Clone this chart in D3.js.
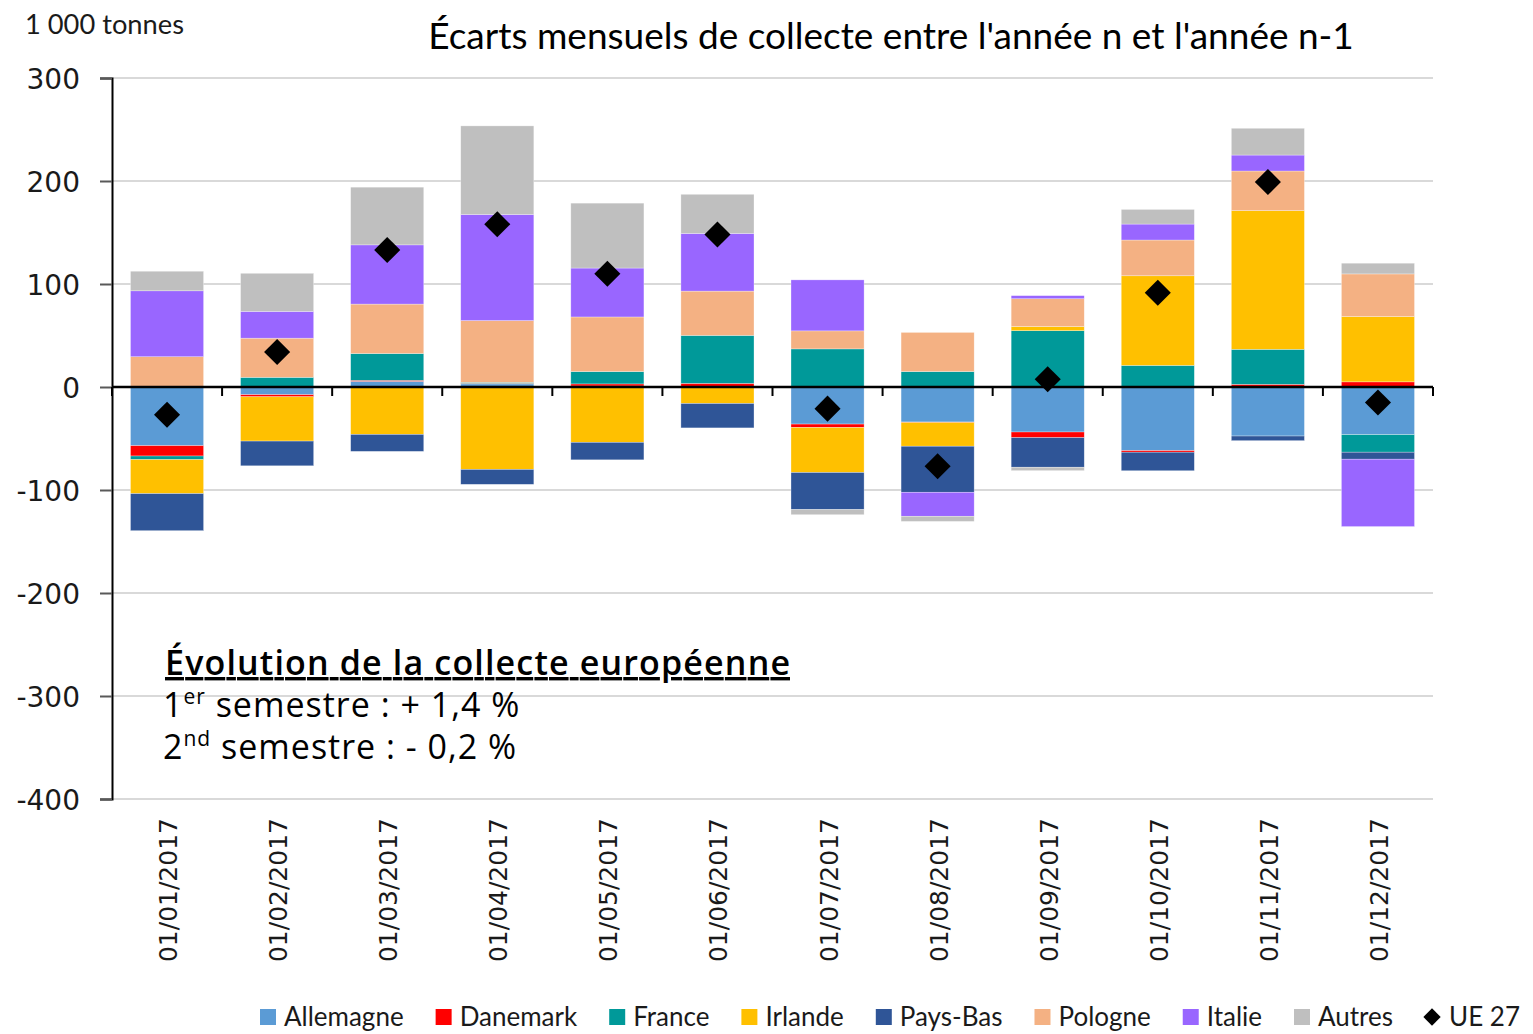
<!DOCTYPE html>
<html>
<head>
<meta charset="utf-8">
<script src="https://cdnjs.cloudflare.com/ajax/libs/d3/7.8.5/d3.min.js"></script>
<style>
  body { margin: 0; background: #fff; }
  svg { display: block; }
</style>
</head>
<body>
<svg id="chart" width="1533" height="1034"></svg>
<script>
// données (1 000 tonnes)
var months = ["01/01/2017","01/02/2017","01/03/2017","01/04/2017","01/05/2017","01/06/2017",
              "01/07/2017","01/08/2017","01/09/2017","01/10/2017","01/11/2017","01/12/2017"];
var allemagne = [-57, -7.5, 5.5, 3, 1, 0, -36, -34, -43.7, -61.8, -47.6, -46.3];
var danemark  = [-10, -2, 1, 0.5, 2, 3.5, -3.3, -0.5, -5.5, -1.5, 2.6, 5];
var france    = [-3.5, 9.4, 26, 1, 12, 46.6, 37, 15, 54.7, 21, 34, -17];
var irlande   = [-33, -43, -46, -80, -53.7, -16, -43.7, -23, 4, 87, 134.6, 63.4];
var paysBas   = [-36, -24, -16.5, -14.5, -17, -23.7, -36, -44.7, -28.7, -18, -4.5, -6.8];
var pologne   = [29.4, 38, 48, 60, 53, 43, 17.5, 38, 27, 34.7, 38.5, 41.4];
var italie    = [64, 26, 57.5, 103, 47.5, 56, 49.5, -23.3, 3, 15.5, 15.5, -65.4];
var autres    = [19, 37, 56, 86, 63, 38, -5, -5, -3.3, 14.2, 26, 10.4];
var ue27      = [-27, 34, 133, 158, 110, 148, -21, -77, 7.5, 91.5, 199, -15];
var yTicks    = [300, 200, 100, 0, -100, -200, -300, -400];

var series = [
  {name: "Allemagne", values: allemagne, color: "#5b9bd5"},
  {name: "Danemark",  values: danemark,  color: "#ff0000"},
  {name: "France",    values: france,    color: "#009999"},
  {name: "Irlande",   values: irlande,   color: "#ffc000"},
  {name: "Pays-Bas",  values: paysBas,   color: "#2f5597"},
  {name: "Pologne",   values: pologne,   color: "#f4b183"},
  {name: "Italie",    values: italie,    color: "#9966ff"},
  {name: "Autres",    values: autres,    color: "#bfbfbf"}
];

var table = months.map(function(m, i){
  var row = {month: m};
  series.forEach(function(s){ row[s.name] = s.values[i]; });
  return row;
});

var svg = d3.select("#chart");
var plot = {left: 112, right: 1433, top: 78, bottom: 799};
var numFont = "'DejaVu Sans', sans-serif";
var txtFont = "Lato, 'Open Sans', sans-serif";

var x = d3.scaleBand().domain(months).range([plot.left, plot.right])
  .paddingInner(0.336).paddingOuter(0.168);
var y = d3.scaleLinear().domain([-400, 300]).range([plot.bottom, plot.top]);

// grille
svg.append("g").selectAll("line").data(yTicks.filter(function(t){ return t !== 0; }))
  .enter().append("line")
  .attr("x1", plot.left).attr("x2", plot.right)
  .attr("y1", function(d){ return y(d); }).attr("y2", function(d){ return y(d); })
  .attr("stroke", "#d9d9d9").attr("stroke-width", 2);

// barres empilées
var stack = d3.stack().keys(series.map(function(s){ return s.name; }))
  .offset(d3.stackOffsetDiverging);
var layers = stack(table);

svg.append("g").selectAll("g").data(layers).enter().append("g")
  .attr("fill", function(d, i){ return series[i].color; })
  .selectAll("rect").data(function(d){ return d; }).enter().append("rect")
  .attr("x", function(d){ return x(d.data.month); })
  .attr("width", x.bandwidth())
  .attr("y", function(d){ return y(Math.max(d[0], d[1])); })
  .attr("height", function(d){ return Math.abs(y(d[0]) - y(d[1])); })
  .attr("stroke", "rgba(255,255,255,0.5)").attr("stroke-width", 0.6);

// axe Y
var yAxis = svg.append("g").attr("transform", "translate(" + plot.left + ",0)")
  .call(d3.axisLeft(y).tickValues(yTicks).tickSize(12).tickPadding(20)
    .tickFormat(d3.format("d")));
yAxis.select(".domain").attr("stroke", "#000").attr("stroke-width", 2);
yAxis.selectAll(".tick line").attr("stroke", "#595959").attr("stroke-width", 2);
yAxis.selectAll("text").attr("font-family", numFont).attr("font-size", 28)
  .attr("fill", "#1a1a1a").attr("dx", 0).attr("dy", "0.36em")
  .text(function(d){ return d < 0 ? "-" + Math.abs(d) : d; });

// axe X (ligne du zéro)
var edges = months.map(function(m){ return x(m) - x.step() * x.paddingInner() / 2; })
  .concat([plot.right]);
var xAxisG = svg.append("g");
xAxisG.append("line").attr("x1", plot.left).attr("x2", plot.right)
  .attr("y1", y(0)).attr("y2", y(0)).attr("stroke", "#000").attr("stroke-width", 2.5);
xAxisG.selectAll("line.tk").data(edges).enter().append("line").attr("class", "tk")
  .attr("x1", function(d){ return d; }).attr("x2", function(d){ return d; })
  .attr("y1", y(0)).attr("y2", y(0) + 9).attr("stroke", "#000").attr("stroke-width", 2);

// étiquettes des mois
svg.append("g").selectAll("text").data(months).enter().append("text")
  .attr("transform", function(d){
    return "translate(" + (x(d) + x.bandwidth() / 2 + 10) + "," + 818 + ") rotate(-90)";
  })
  .attr("text-anchor", "end")
  .attr("font-family", numFont).attr("font-size", 25).attr("fill", "#1a1a1a")
  .text(function(d){ return d; });

// UE 27
svg.append("g").selectAll("path").data(ue27).enter().append("path")
  .attr("d", d3.symbol().type(d3.symbolSquare).size(340))
  .attr("transform", function(d, i){
    return "translate(" + (x(months[i]) + x.bandwidth() / 2) + "," + y(d) + ") rotate(45)";
  })
  .attr("fill", "#000");

// titres
svg.append("text").attr("x", 25).attr("y", 34)
  .attr("font-family", txtFont).attr("font-size", 26).attr("fill", "#1a1a1a")
  .attr("textLength", 159).attr("lengthAdjust", "spacingAndGlyphs")
  .text("1 000 tonnes");
svg.append("text").attr("x", 891).attr("y", 49).attr("text-anchor", "middle")
  .attr("font-family", txtFont).attr("font-size", 37).attr("fill", "#000")
  .text("Écarts mensuels de collecte entre l'année n et l'année n-1");

// encadré
var note = svg.append("g").attr("font-family", "'Open Sans', Lato, sans-serif").attr("fill", "#000");
note.append("text").attr("x", 165).attr("y", 675).attr("font-size", 34)
  .attr("font-weight", 600).attr("text-decoration", "underline")
  .attr("textLength", 625).attr("lengthAdjust", "spacing")
  .text("Évolution de la collecte européenne ");
var l1 = note.append("text").attr("x", 163).attr("y", 717).attr("font-size", 34)
  .attr("letter-spacing", 1);
l1.append("tspan").text("1");
l1.append("tspan").attr("font-size", 21).attr("dy", -13).text("er");
l1.append("tspan").attr("dy", 13).text(" semestre : + 1,4 %");
var l2 = note.append("text").attr("x", 163).attr("y", 759).attr("font-size", 34)
  .attr("letter-spacing", 1);
l2.append("tspan").text("2");
l2.append("tspan").attr("font-size", 21).attr("dy", -13).text("nd");
l2.append("tspan").attr("dy", 13).text(" semestre : - 0,2 %");

// légende
var legendItems = series.map(function(s){ return {name: s.name, color: s.color, type: "rect"}; })
  .concat([{name: "UE 27", color: "#000", type: "diamond"}]);
var lg = svg.append("g");
var lx = 260, ly = 1017;
legendItems.forEach(function(it){
  var g = lg.append("g").attr("transform", "translate(" + lx + "," + ly + ")");
  if (it.type === "rect") {
    g.append("rect").attr("x", 0).attr("y", -8).attr("width", 16).attr("height", 16).attr("fill", it.color);
  } else {
    g.append("path").attr("d", d3.symbol().type(d3.symbolSquare).size(150))
      .attr("transform", "translate(7,0) rotate(45)").attr("fill", it.color);
  }
  var t = g.append("text").attr("x", 24).attr("y", 0).attr("dy", "0.36em")
    .attr("font-family", txtFont).attr("font-size", 26).attr("fill", "#1a1a1a").text(it.name);
  lx += 24 + t.node().getComputedTextLength() + 32;
});
</script>
</body>
</html>
